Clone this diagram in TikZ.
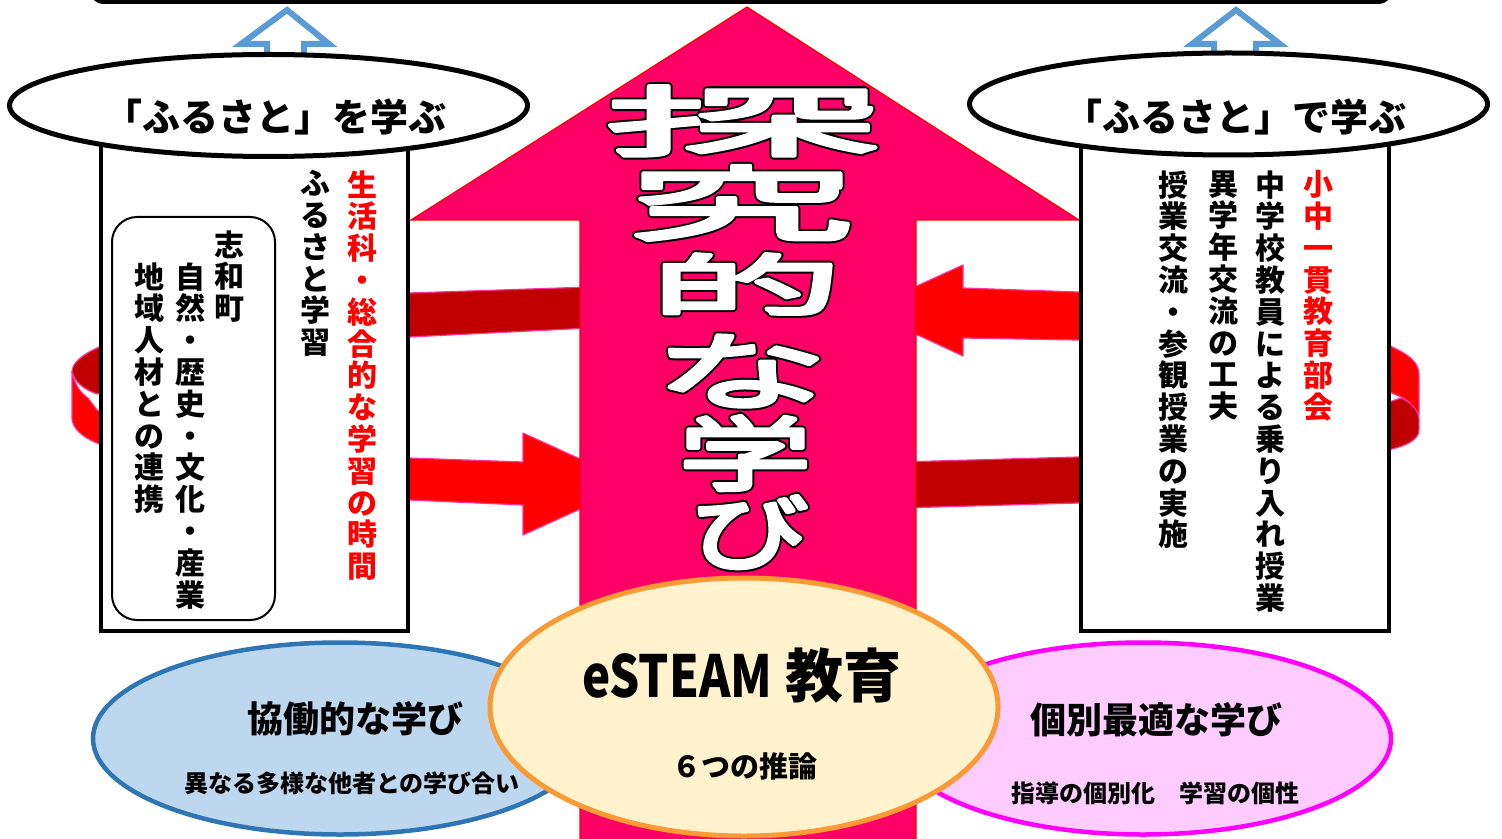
\documentclass[tikz,border=0pt]{standalone}
\usepackage{fontspec}
\setmainfont{Noto Sans CJK JP}
\newfontfamily\jp{Noto Sans CJK JP}
\usepackage{graphicx}
\definecolor{pinkarrow}{HTML}{FF0066}
\definecolor{brightred}{HTML}{FF0000}
\definecolor{darkred}{HTML}{C00000}
\definecolor{ribbonedge}{HTML}{FF3399}
\definecolor{arrowblue}{HTML}{5B9BD5}
\definecolor{bluefill}{HTML}{BDD7EE}
\definecolor{blueline}{HTML}{2E75B6}
\definecolor{orangefill}{HTML}{FFF2CC}
\definecolor{orangeline}{HTML}{FA9A35}
\definecolor{pinkfill}{HTML}{FFCCFF}
\definecolor{pinkline}{HTML}{FF00FF}
% #1 stroke width, #2 horizontal scaling in percent
\newcommand{\strokeon}[2]{\special{pdf:literal direct 2 Tr #1 w 1 j #2 Tz}}
\newcommand{\strokeoff}{\special{pdf:literal direct 0 Tr 0 j 0.4 w 100 Tz}}
% #1 name, #2 position, #3 font size (pt), #4 Tz percent, #5 half width (pt), #6 glyph
\newcommand{\titlech}[6]{%
  \node[big, text=black, font=\jp\fontsize{#3}{#3}\selectfont] (#1o) at #2
    {\makebox[0pt][l]{\kern-#5pt\strokeon{4.2}{#4}#6\strokeoff}};
  \node[big, text=white, font=\jp\fontsize{#3}{#3}\selectfont] (#1) at #2
    {\makebox[0pt][l]{\kern-#5pt\strokeon{2.2}{#4}#6\strokeoff}};}
\begin{document}
\begin{tikzpicture}[x=0.5pt,y=-0.5pt,
  ribbon/.style={draw=ribbonedge, line width=0.6pt, line join=round},
  vcol/.style={anchor=north, align=center, inner sep=0pt, font=\jp\bfseries\fontsize{15}{15.9}\selectfont},
  lbl/.style={inner sep=0pt, font=\jp\bfseries\fontsize{18}{20}\selectfont},
  toplbl/.style={inner sep=0pt, font=\jp\bfseries\fontsize{19}{21}\selectfont},
  sub/.style={inner sep=0pt, font=\jp\bfseries\fontsize{12}{14}\selectfont},
  big/.style={inner sep=0pt},
  hollow/.style={draw=arrowblue, fill=white, line width=3pt, miter limit=10},
  frame/.style={draw=black, fill=white, line width=2pt},
  oval/.style={fill=white, draw=black, line width=2.5pt},
]
\clip (0,0) rectangle (1502,839);
\fill[white] (0,0) rectangle (1502,839);

% top frame (only its lower edge is visible)
\draw[line width=2pt, rounded corners=5pt] (93,-60) rectangle (1389,2);

% hollow blue arrows
\draw[hollow] (287,10) -- (329,44) -- (304,44) -- (304,75) -- (267,75) -- (267,44) -- (241,44) -- cycle;
\draw[hollow] (1236,10) -- (1280,44) -- (1256,44) -- (1256,75) -- (1214,75) -- (1214,44) -- (1192,44) -- cycle;

% back (dark) parts of the ring
\filldraw[ribbon, fill=darkred] (590,287) -- (409,293) .. controls (300,300) and (130,330) .. (97,348)
  .. controls (82,355) and (72,363) .. (72,372)
  .. controls (75,384) and (88,391) .. (97,394)
  .. controls (200,362) and (330,340) .. (409,337) -- (590,328) -- cycle;
\filldraw[ribbon, fill=darkred] (900,462) -- (1078,457) .. controls (1250,442) and (1360,415) .. (1392,401)
  -- (1401,398) .. controls (1412,403) and (1419,410) .. (1419,420) -- (1419,430)
  .. controls (1419,440) and (1405,446) .. (1392,449)
  .. controls (1300,480) and (1150,500) .. (1078,503) -- (900,508) -- cycle;

% front (bright) parts of the ring with arrow heads
\filldraw[ribbon, fill=brightred] (72,372) .. controls (75,386) and (82,394) .. (88,398) -- (97,410)
  .. controls (200,440) and (350,457) .. (409,458) -- (523,462) -- (523,433) -- (635,484)
  -- (523,535) -- (523,505) -- (409,500) .. controls (300,495) and (150,470) .. (97,443)
  .. controls (82,437) and (72,428) .. (72,418) -- cycle;
\filldraw[ribbon, fill=brightred] (864,310) -- (963,265) -- (963,288) -- (1078,292)
  .. controls (1250,305) and (1370,335) .. (1392,347)
  .. controls (1410,355) and (1419,363) .. (1419,375) -- (1419,415)
  .. controls (1414,406) and (1408,400) .. (1401,397) -- (1392,393)
  .. controls (1300,370) and (1150,345) .. (1078,340) -- (963,338) -- (963,356) -- cycle;

% big pink arrow
\filldraw[fill=pinkarrow, draw=brightred, line width=0.6pt] (747,7) -- (1079,220) -- (916,220) -- (916,850)
  -- (580,850) -- (580,220) -- (411,220) -- cycle;

% side boxes
\draw[frame] (101,140) rectangle (408,631);
\draw[frame] (1081,140) rectangle (1389,631);
\draw[line width=1pt, rounded corners=12.5pt] (112,217) rectangle (275,620);

% top ovals
\draw[oval] (268.5,105.5) ellipse [x radius=259, y radius=51];
\draw[oval] (1228.5,104) ellipse [x radius=259, y radius=51];
\node[toplbl] (tl) at (275,117) {「ふるさと」を学ぶ};
\node[toplbl] (tr) at (1235,117) {「ふるさと」で学ぶ};

% left box texts
\node[vcol, text=brightred] (l1) at (362,170) {生\\活\\科\\・\\総\\合\\的\\な\\学\\習\\の\\時\\間};
\node[vcol] (l2) at (315,170) {ふ\\る\\さ\\と\\学\\習};
\node[vcol] (l3) at (229.5,230) {志\\和\\町};
\node[vcol] (l4) at (190,262) {自\\然\\・\\歴\\史\\・\\文\\化\\・\\産\\業};
\node[vcol] (l5) at (149,262) {地\\域\\人\\材\\と\\の\\連\\携};

% right box texts
\node[vcol, text=brightred] (r1) at (1318,170) {小\\中\\一\\貫\\教\\育\\部\\会};
\node[vcol] (r2) at (1270,170) {中\\学\\校\\教\\員\\に\\よ\\る\\乗\\り\\入\\れ\\授\\業};
\node[vcol] (r3) at (1223,170) {異\\学\\年\\交\\流\\の\\工\\夫};
\node[vcol] (r4) at (1173,170) {授\\業\\交\\流\\・\\参\\観\\授\\業\\の\\実\\施};

% title in the arrow
\titlech{t1}{(742,121)}{37.6}{372}{69.9}{探}
\titlech{t2}{(741,203)}{40}{288}{57.6}{究}
\titlech{t3}{(746,284)}{32.8}{300}{49.2}{的}
\titlech{t4}{(741,371)}{41.6}{211.5}{44}{な}
\titlech{t5}{(745,453)}{40}{168}{33.6}{学}
\titlech{t6}{(749,532)}{40.8}{147}{30}{び}

% bottom ovals
\draw[fill=bluefill, draw=blueline, line width=2.25pt] (340,738.5) ellipse [x radius=247, y radius=96];
\draw[fill=pinkfill, draw=pinkline, line width=2.25pt] (1143,738.5) ellipse [x radius=248, y radius=96];
\draw[fill=orangefill, draw=orangeline, line width=2.5pt] (744,707) ellipse [x radius=254, y radius=129];

\node[lbl] (kyo) at (355,719) {協働的な学び};
\node[sub] (kyo2) at (352,783) {異なる多様な他者との学び合い};
\node[lbl] (ko) at (1156,720) {個別最適な学び};
\node[sub] (ko2) at (1155,793) {指導の個別化　学習の個性};
\node[inner sep=0pt, font=\jp\bfseries\fontsize{29}{32}\selectfont] (es) at (742,676) {\scalebox{0.82}[1]{eSTEAM} 教育};
\node[inner sep=0pt, font=\jp\bfseries\fontsize{14.5}{16}\selectfont] (six) at (745,766) {６つの推論};
\end{tikzpicture}
\end{document}
